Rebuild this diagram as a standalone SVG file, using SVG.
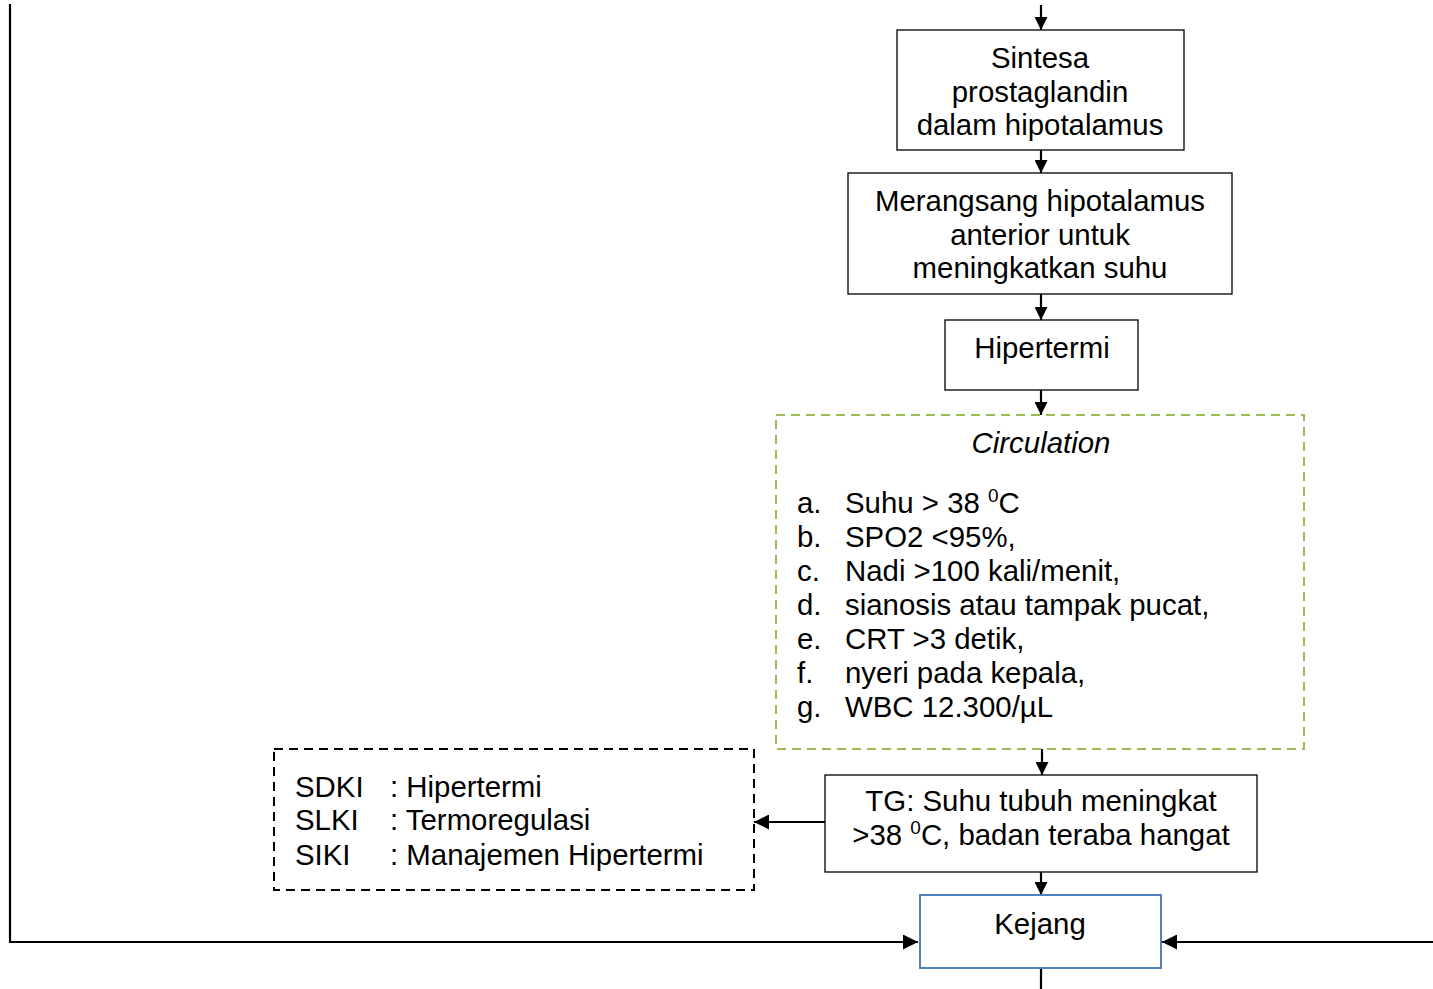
<svg xmlns="http://www.w3.org/2000/svg" width="1433" height="989" viewBox="0 0 1433 989">
<defs>
<marker id="ah" viewBox="0 0 10 10" refX="10" refY="5" markerWidth="13" markerHeight="13" markerUnits="userSpaceOnUse" orient="auto"><path d="M0,0 L10,5 L0,10 z" fill="#000"/></marker>
<marker id="ahl" viewBox="0 0 10 10" refX="10" refY="5" markerWidth="15" markerHeight="15" markerUnits="userSpaceOnUse" orient="auto"><path d="M0,0 L10,5 L0,10 z" fill="#000"/></marker>
</defs>
<style>
text{font-family:"Liberation Sans",Arial,sans-serif;font-size:29.4px;fill:#000}
.c{text-anchor:middle}
.box{fill:#fff;stroke:#000;stroke-width:1.3}
.con{stroke:#000;stroke-width:2.2;fill:none}
</style>
<rect width="1433" height="989" fill="#fff"/>
<g id="connectors">
<path class="con" d="M10,4 V942 H918" marker-end="url(#ahl)"/>
<path class="con" d="M1433,942 H1162" marker-end="url(#ahl)"/>
<path class="con" d="M1041,5 V30" marker-end="url(#ah)"/>
<path class="con" d="M1041,150 V173" marker-end="url(#ah)"/>
<path class="con" d="M1041,294 V320" marker-end="url(#ah)"/>
<path class="con" d="M1041,390 V415" marker-end="url(#ah)"/>
<path class="con" d="M1042,749 V775" marker-end="url(#ah)"/>
<path class="con" d="M825,822 H754" marker-end="url(#ahl)"/>
<path class="con" d="M1041,872 V895" marker-end="url(#ah)"/>
<path class="con" d="M1041,968 V989"/>
</g>
<g id="n1">
<rect class="box" x="897" y="30" width="287" height="120"/>
<text class="c" x="1040" y="68">Sintesa</text>
<text class="c" x="1040" y="102">prostaglandin</text>
<text class="c" x="1040" y="135">dalam hipotalamus</text>
</g>
<g id="n2">
<rect class="box" x="848" y="173" width="384" height="121"/>
<text class="c" x="1040" y="211">Merangsang hipotalamus</text>
<text class="c" x="1040" y="245">anterior untuk</text>
<text class="c" x="1040" y="278">meningkatkan suhu</text>
</g>
<g id="n3">
<rect class="box" x="945" y="320" width="193" height="70"/>
<text class="c" x="1042" y="358">Hipertermi</text>
</g>
<g id="n4">
<rect x="776" y="415" width="528" height="334" fill="#fff" stroke="#9bbb59" stroke-width="2" stroke-dasharray="9,6"/>
<text class="c" x="1041" y="453" font-style="italic">Circulation</text>
<text x="797" y="513">a.</text><text x="845" y="513">Suhu &gt; 38 <tspan font-size="19" dy="-11">0</tspan><tspan dy="11">C</tspan></text>
<text x="797" y="547">b.</text><text x="845" y="547">SPO2 &lt;95%,</text>
<text x="797" y="581">c.</text><text x="845" y="581">Nadi &gt;100 kali/menit,</text>
<text x="797" y="615">d.</text><text x="845" y="615">sianosis atau tampak pucat,</text>
<text x="797" y="649">e.</text><text x="845" y="649">CRT &gt;3 detik,</text>
<text x="797" y="683">f.</text><text x="845" y="683">nyeri pada kepala,</text>
<text x="797" y="717">g.</text><text x="845" y="717">WBC 12.300/µL</text>
</g>
<g id="n5">
<rect class="box" x="825" y="775" width="432" height="97"/>
<text class="c" x="1041" y="811">TG: Suhu tubuh meningkat</text>
<text class="c" x="1041" y="845">&gt;38 <tspan font-size="19" dy="-11">0</tspan><tspan dy="11">C, badan teraba hangat</tspan></text>
</g>
<g id="n6">
<rect x="274" y="749" width="480" height="141" fill="#fff" stroke="#000" stroke-width="2" stroke-dasharray="9,6"/>
<text x="295" y="797">SDKI</text><text x="390" y="797">: Hipertermi</text>
<text x="295" y="830">SLKI</text><text x="390" y="830">: Termoregulasi</text>
<text x="295" y="865">SIKI</text><text x="390" y="865">: Manajemen Hipertermi</text>
</g>
<g id="n7">
<rect x="920" y="895" width="241" height="73" fill="#fff" stroke="#4f81bd" stroke-width="2"/>
<text class="c" x="1040" y="934">Kejang</text>
</g>
</svg>
